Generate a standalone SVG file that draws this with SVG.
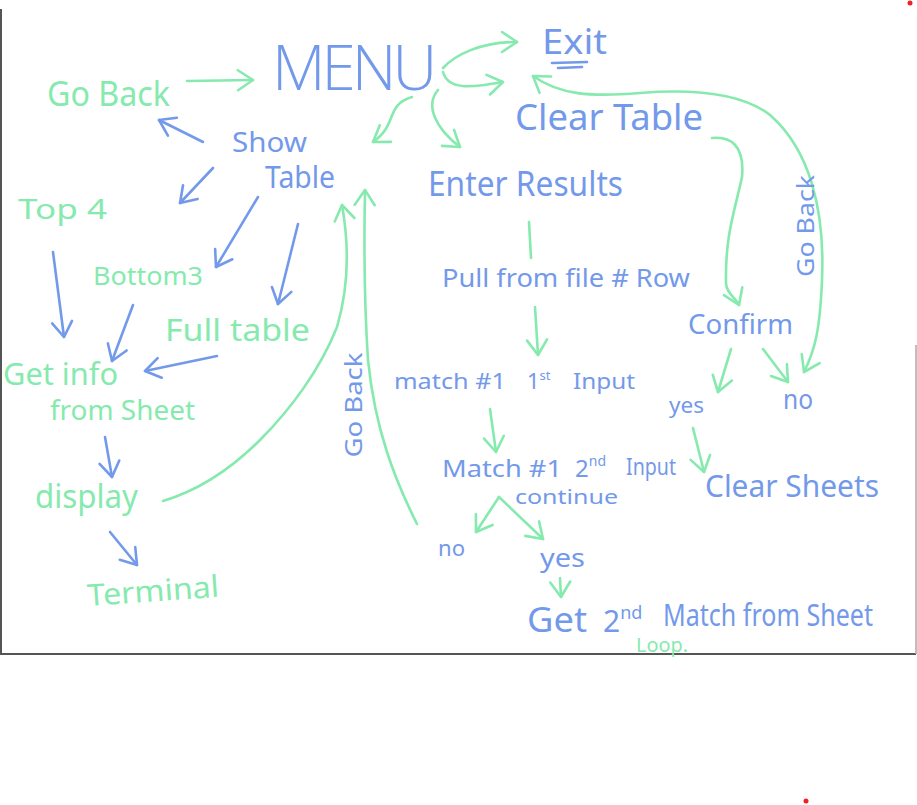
<svg xmlns="http://www.w3.org/2000/svg" width="917" height="805" viewBox="0 0 917 805">
<defs>
<style>
text{font-family:"Noto Sans","Liberation Sans",sans-serif;}
.b{fill:#7399ea;}
.g{fill:#86eaae;}
.thin{font-family:"Open Sans","Noto Sans",sans-serif;font-weight:300;}
.cg{stroke:#86eaae;fill:none;stroke-width:2.6;stroke-linecap:round;stroke-linejoin:round;}
.cb{stroke:#7399ea;fill:none;stroke-width:2.6;stroke-linecap:round;stroke-linejoin:round;}
.frame{stroke:#555;stroke-width:2;fill:none;}
</style>
<marker id="ag" viewBox="-18 -12 20 24" markerWidth="20" markerHeight="24" refX="0" refY="0" orient="auto-start-reverse" markerUnits="userSpaceOnUse"><path d="M-15,-10 L0,0 L-15,10" fill="none" stroke="#86eaae" stroke-width="2.6" stroke-linecap="round" stroke-linejoin="round"/></marker>
<marker id="ab" viewBox="-18 -12 20 24" markerWidth="20" markerHeight="24" refX="0" refY="0" orient="auto-start-reverse" markerUnits="userSpaceOnUse"><path d="M-15,-10 L0,0 L-15,10" fill="none" stroke="#7399ea" stroke-width="2.6" stroke-linecap="round" stroke-linejoin="round"/></marker>
</defs>
<rect x="0" y="0" width="917" height="805" fill="#fff"/>
<g id="frame">
<path class="frame" d="M1,9 L1,654 L916,654"/>
<path d="M916,345 L916,654" stroke="#aaa" stroke-width="1.5"/>
<circle cx="910" cy="3" r="2.5" fill="#e22"/>
<circle cx="806" cy="801" r="2.5" fill="#e22"/>
</g>
<g id="connectors">
<path class="cg" marker-end="url(#ag)" d="M187,81 L253,80"/>
<path class="cg" marker-end="url(#ag)" d="M443,68 C455,55 480,42 517,42"/>
<path class="cg" marker-end="url(#ag)" d="M443,72 C448,90 470,88 503,82"/>
<path class="cg" marker-end="url(#ag)" d="M412,97 C385,105 398,125 373,142"/>
<path class="cg" marker-end="url(#ag)" d="M438,90 C425,105 435,128 460,147"/>
<path class="cg" marker-start="url(#ag)" marker-end="url(#ag)" d="M533,76 C560,95 590,97 640,93 C690,89 740,92 770,115 C810,150 825,210 822,280 C820,330 815,350 804,372"/>
<path class="cg" marker-end="url(#ag)" d="M712,138 C730,136 745,145 742,177 C735,210 725,235 726,283 C726,293 736,298 739,305"/>
<path class="cg" d="M529,222 L531,258"/>
<path class="cg" marker-end="url(#ag)" d="M535,307 L538,355"/>
<path class="cg" marker-end="url(#ag)" d="M490,409 L496,452"/>
<path class="cg" marker-end="url(#ag)" d="M731,349 L718,392"/>
<path class="cg" marker-end="url(#ag)" d="M763,349 L788,382"/>
<path class="cg" marker-end="url(#ag)" d="M693,428 L704,472"/>
<path class="cg" marker-end="url(#ag)" d="M499,497 L476,532"/>
<path class="cg" marker-end="url(#ag)" d="M499,497 L543,539"/>
<path class="cg" marker-end="url(#ag)" d="M560,578 L561,597"/>
<path class="cg" marker-end="url(#ag)" d="M163,501 C200,490 230,470 260,440 C290,410 320,370 337,327 C348,290 350,250 342,205"/>
<path class="cg" marker-end="url(#ag)" d="M417,524 C395,480 375,430 368,360 C364,300 364,240 365,190"/>
<path class="cb" marker-end="url(#ab)" d="M203,142 L159,120"/>
<path class="cb" marker-end="url(#ab)" d="M213,168 L180,203"/>
<path class="cb" marker-end="url(#ab)" d="M258,197 L216,267"/>
<path class="cb" marker-end="url(#ab)" d="M298,224 L278,304"/>
<path class="cb" marker-end="url(#ab)" d="M53,252 L64,337"/>
<path class="cb" marker-end="url(#ab)" d="M133,305 L112,361"/>
<path class="cb" marker-end="url(#ab)" d="M217,356 L145,371"/>
<path class="cb" marker-end="url(#ab)" d="M105,437 L112,477"/>
<path class="cb" marker-end="url(#ab)" d="M110,532 L137,565"/>
</g>
<g id="menu"><text class="b thin" x="272" y="90" font-size="62" textLength="165" lengthAdjust="spacing">MENU</text></g>
<g id="exit"><text class="b" x="542" y="54" font-size="34" textLength="65" lengthAdjust="spacingAndGlyphs">Exit</text>
<path class="cb" d="M552,63 L587,62 M558,68 L582,67" stroke-width="2.2"/></g>
<g id="goback-top"><text class="g" x="47" y="106" font-size="34" textLength="123" lengthAdjust="spacingAndGlyphs">Go Back</text></g>
<g id="clear-table"><text class="b" x="515" y="130" font-size="36" textLength="188" lengthAdjust="spacingAndGlyphs">Clear Table</text></g>
<g id="show-table"><text class="b" x="232" y="152" font-size="28" textLength="75" lengthAdjust="spacingAndGlyphs">Show</text>
<text class="b" x="265" y="188" font-size="30" textLength="70" lengthAdjust="spacingAndGlyphs">Table</text></g>
<g id="enter-results"><text class="b" x="428" y="196" font-size="34" textLength="195" lengthAdjust="spacingAndGlyphs">Enter Results</text></g>
<g id="pull-row"><text class="b" x="442" y="287" font-size="26" textLength="248" lengthAdjust="spacingAndGlyphs">Pull from file # Row</text></g>
<g id="top4"><text class="g" x="18" y="219" font-size="28" textLength="89" lengthAdjust="spacingAndGlyphs">Top 4</text></g>
<g id="bottom3"><text class="g" x="93" y="285" font-size="26" textLength="110" lengthAdjust="spacingAndGlyphs">Bottom3</text></g>
<g id="full-table"><text class="g" x="165" y="341" font-size="30" textLength="145" lengthAdjust="spacingAndGlyphs">Full table</text></g>
<g id="get-info"><text class="g" x="3" y="385" font-size="30" textLength="115" lengthAdjust="spacingAndGlyphs">Get info</text>
<text class="g" x="50" y="420" font-size="28" textLength="145" lengthAdjust="spacingAndGlyphs">from Sheet</text></g>
<g id="display"><text class="g" x="35" y="508" font-size="32" textLength="103" lengthAdjust="spacingAndGlyphs">display</text></g>
<g id="terminal"><text class="g" x="88" y="606" font-size="30" textLength="132" lengthAdjust="spacingAndGlyphs" transform="rotate(-4 88 606)">Terminal</text></g>
<g id="goback-left"><text class="b" font-size="24" text-anchor="middle" transform="translate(362,405) rotate(-90)" textLength="105" lengthAdjust="spacingAndGlyphs">Go Back</text></g>
<g id="goback-right"><text class="b" font-size="24" text-anchor="middle" transform="translate(814,226) rotate(-90)" textLength="102" lengthAdjust="spacingAndGlyphs">Go Back</text></g>
<g id="confirm"><text class="b" x="688" y="334" font-size="28" textLength="105" lengthAdjust="spacingAndGlyphs">Confirm</text></g>
<g id="yes-confirm"><text class="b" x="669" y="413" font-size="22" textLength="35" lengthAdjust="spacingAndGlyphs">yes</text></g>
<g id="no-confirm"><text class="b" x="783" y="409" font-size="28" textLength="30" lengthAdjust="spacingAndGlyphs">no</text></g>
<g id="clear-sheets"><text class="b" x="705" y="497" font-size="30" textLength="174" lengthAdjust="spacingAndGlyphs">Clear Sheets</text></g>
<g id="match1"><text class="b" x="394" y="389" font-size="22" textLength="112" lengthAdjust="spacingAndGlyphs">match #1</text>
<text class="b" x="527" y="389" font-size="22">1<tspan font-size="13" dy="-9">st</tspan></text>
<text class="b" x="573" y="389" font-size="22" textLength="62" lengthAdjust="spacingAndGlyphs">Input</text></g>
<g id="match2"><text class="b" x="442" y="477" font-size="24" textLength="120" lengthAdjust="spacingAndGlyphs">Match #1</text>
<text class="b" x="575" y="477" font-size="24">2<tspan font-size="14" dy="-11">nd</tspan></text>
<text class="b" x="626" y="475" font-size="24" textLength="50" lengthAdjust="spacingAndGlyphs">Input</text>
<text class="b" x="515" y="504" font-size="20" textLength="103" lengthAdjust="spacingAndGlyphs">continue</text></g>
<g id="no-match"><text class="b" x="438" y="556" font-size="22" textLength="27" lengthAdjust="spacingAndGlyphs">no</text></g>
<g id="yes-match"><text class="b" x="540" y="567" font-size="26" textLength="45" lengthAdjust="spacingAndGlyphs">yes</text></g>
<g id="get-2nd"><text class="b" x="527" y="632" font-size="34" textLength="60" lengthAdjust="spacingAndGlyphs">Get</text>
<text class="b" x="603" y="632" font-size="30">2<tspan font-size="18" dy="-13">nd</tspan></text>
<text class="b" x="663" y="626" font-size="30" textLength="210" lengthAdjust="spacingAndGlyphs">Match from Sheet</text>
<text class="g" x="636" y="652" font-size="20" textLength="52" lengthAdjust="spacingAndGlyphs">Loop.</text></g>
</svg>
